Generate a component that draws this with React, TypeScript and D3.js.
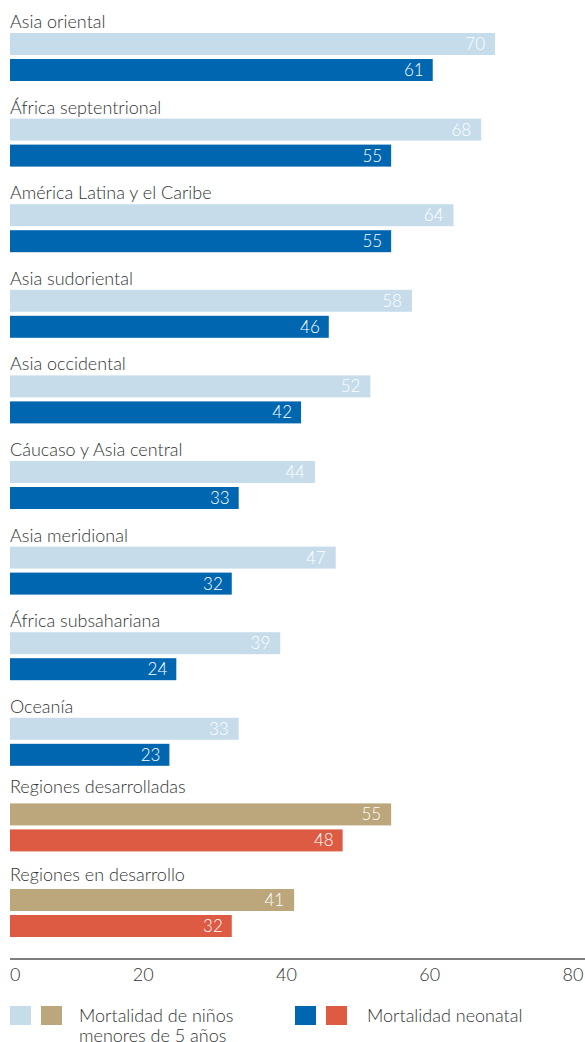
import React from "react";
import * as d3 from "d3";

const categories = [
  "Asia oriental",
  "África septentrional",
  "América Latina y el Caribe",
  "Asia sudoriental",
  "Asia occidental",
  "Cáucaso y Asia central",
  "Asia meridional",
  "África subsahariana",
  "Oceanía",
  "Regiones desarrolladas",
  "Regiones en desarrollo",
];
const under5 = [70, 68, 64, 58, 52, 44, 47, 39, 33, 55, 41];
const neonatal = [61, 55, 55, 46, 42, 33, 32, 24, 23, 48, 32];
const ticks = [0, 20, 40, 60, 80];

const W = 585;
const H = 1042;
const FONT = "Lato, 'Open Sans', sans-serif";
const TEXT = "#333";

export default function App() {
  const x = d3.scaleLinear().domain([0, 80]).range([10, 10 + 80 * 6.93]);
  const xAxis = d3.scaleLinear().domain([0, 80]).range([0, 573]);
  const y = d3
    .scaleBand<number>()
    .domain(d3.range(categories.length))
    .range([33, 33 + categories.length * 85.6])
    .paddingInner(0)
    .paddingOuter(0);
  const barH = 22;
  const gap = 4;
  const colors = (i: number) =>
    i >= 9 ? ["#bba77b", "#dd5a43"] : ["#c6dcea", "#0066b0"];

  return (
    <svg
      width={W}
      height={H}
      style={{ position: "absolute", left: 0, top: 0, display: "block" }}
      fontFamily={FONT}
    >
      <rect width={W} height={H} fill="#fff" />
      {categories.map((c, i) => {
        const top = y(i)!;
        const [c1, c2] = colors(i);
        return (
          <g key={c}>
            <text x={10} y={top - 5 + (i >= 9 ? (i === 9 ? -5 : -3) : 0)} fontSize={18} fontWeight={300} fill={TEXT}>
              {c}
            </text>
            <rect x={x(0)} y={top} width={x(under5[i]) - x(0)} height={barH} fill={c1} />
            <text
              x={x(under5[i]) - 10}
              y={top + 17}
              textAnchor="end"
              fontSize={17}
              fontWeight={300}
              fill="#fff"
            >
              {under5[i]}
            </text>
            <rect x={x(0)} y={top + barH + gap} width={x(neonatal[i]) - x(0)} height={barH} fill={c2} />
            <text
              x={x(neonatal[i]) - 9}
              y={top + barH + gap + 17}
              textAnchor="end"
              fontSize={17}
              fontWeight={300}
              fill="#fff"
            >
              {neonatal[i]}
            </text>
          </g>
        );
      })}
      <line x1={10} x2={W} y1={959} y2={959} stroke="#555" strokeWidth={1.5} />
      {ticks.map((t) => (
        <text
          key={t}
          x={t === 0 ? 10 : xAxis(t)}
          y={981}
          textAnchor={t === 0 ? "start" : "middle"}
          fontSize={18}
          fontWeight={300}
          fill={TEXT}
        >
          {t}
        </text>
      ))}
      <rect x={10} y={1006} width={21} height={19} fill="#c6dcea" />
      <rect x={41} y={1006} width={21} height={19} fill="#bba77b" />
      <text x={79} y={1022} fontSize={18} fontWeight={300} fill={TEXT}>
        Mortalidad de niños
      </text>
      <text x={79} y={1042} fontSize={18} fontWeight={300} fill={TEXT}>
        menores de 5 años
      </text>
      <rect x={295} y={1006} width={21} height={19} fill="#0066b0" />
      <rect x={326} y={1006} width={21} height={19} fill="#dd5a43" />
      <text x={367} y={1022} fontSize={18} fontWeight={300} fill={TEXT}>
        Mortalidad neonatal
      </text>
    </svg>
  );
}
